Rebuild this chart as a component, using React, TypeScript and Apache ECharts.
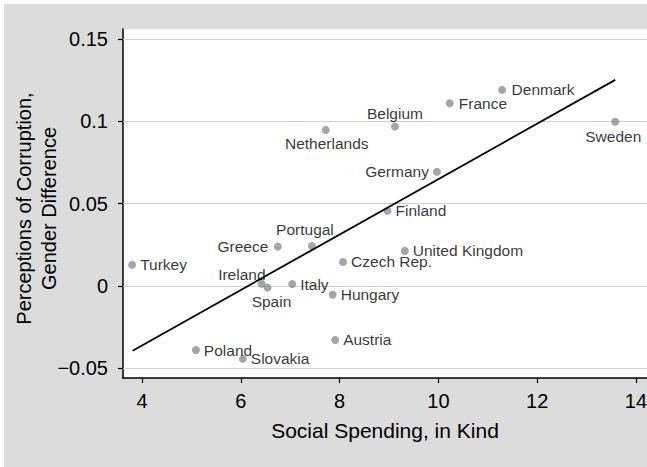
import React, { useEffect, useRef } from "react";
import * as echarts from "echarts";

// Country observations: in-kind social spending vs. gender gap in perceived corruption
const countries = [
  "Turkey", "Poland", "Slovakia", "Ireland", "Spain", "Greece", "Italy", "Portugal",
  "Netherlands", "Hungary", "Austria", "Czech Rep.", "Finland", "Belgium",
  "United Kingdom", "Germany", "France", "Denmark", "Sweden",
];
const spendingInKind = [
  3.8, 5.09, 6.04, 6.42, 6.54, 6.75, 7.04, 7.44,
  7.72, 7.86, 7.91, 8.07, 8.97, 9.12,
  9.32, 9.97, 10.23, 11.29, 13.58,
];
const corruptionGenderGap = [
  0.0128, -0.0389, -0.0443, 0.0014, -0.001, 0.0239, 0.0012, 0.0243,
  0.0948, -0.0053, -0.0328, 0.0146, 0.0456, 0.0968,
  0.0213, 0.0694, 0.111, 0.1191, 0.0998,
];

// Fitted line end points
const fitX = [3.81, 13.58];
const fitY = [-0.0393, 0.1252];

// Axis ticks
const xTicks = [4, 6, 8, 10, 12, 14];
const yTicks = [-0.05, 0, 0.05, 0.1, 0.15];

const FONT = "'Liberation Sans', Arial, Helvetica, sans-serif";

type Placement = { position: string; distance: number; offset: [number, number] };
const right: Placement = { position: "right", distance: 4, offset: [0, 0] };
const labelPlacement: Record<string, Placement> = {
  Greece: { position: "left", distance: 5.5, offset: [0, 0] },
  Germany: { position: "left", distance: 4, offset: [0, 0] },
  Ireland: { position: "left", distance: -8, offset: [0, -9] },
  Portugal: { position: "top", distance: 4, offset: [-7, 0] },
  Belgium: { position: "top", distance: 1, offset: [0, 0] },
  Spain: { position: "bottom", distance: 2, offset: [4, 0] },
  Netherlands: { position: "bottom", distance: 2, offset: [1, 0] },
  Sweden: { position: "bottom", distance: 3, offset: [-2, 0] },
  France: { position: "right", distance: 5, offset: [0, 0] },
  Denmark: { position: "right", distance: 5.5, offset: [0, 0] },
};

const fmtY = (v: number) => (v < 0 ? "\u2212" + String(Math.abs(v)) : String(v));

export default function App() {
  const ref = useRef<HTMLDivElement>(null);

  useEffect(() => {
    if (!ref.current) return;
    const chart = echarts.init(ref.current, undefined, { renderer: "svg" });

    const points = countries.map((name, i) => {
      const p = labelPlacement[name] || right;
      return {
        name,
        value: [spendingInKind[i], corruptionGenderGap[i]],
        label: {
          show: true,
          formatter: name,
          position: p.position,
          distance: p.distance,
          offset: p.offset,
        },
      };
    });

    chart.setOption({
      animation: false,
      backgroundColor: "#dcdcdc",
      textStyle: { fontFamily: FONT },
      grid: {
        left: 119,
        top: 25,
        right: 0,
        bottom: 89,
        outerBoundsMode: "none",
        containLabel: false,
        show: true,
        backgroundColor: "#ffffff",
        borderWidth: 0,
      },
      xAxis: {
        type: "value",
        min: 3.615,
        max: 14.223,
        name: "Social Spending, in Kind",
        nameLocation: "middle",
        nameGap: 42,
        nameMoveOverlap: false,
        nameTextStyle: { fontSize: 21, color: "#000", fontFamily: FONT },
        axisLine: { show: true, onZero: false, lineStyle: { color: "#000", width: 1.5 } },
        axisTick: {
          show: true,
          inside: false,
          length: 5,
          customValues: xTicks,
          lineStyle: { color: "#000", width: 1.2 },
        },
        axisLabel: {
          customValues: xTicks,
          fontSize: 20,
          color: "#000",
          margin: 13,
          fontFamily: FONT,
        },
        splitLine: { show: false },
      },
      yAxis: {
        type: "value",
        min: -0.0559,
        max: 0.1561,
        name: "Perceptions of Corruption,\nGender Difference",
        nameLocation: "middle",
        nameRotate: 90,
        nameGap: 62,
        nameMoveOverlap: false,
        nameTextStyle: {
          fontSize: 20,
          lineHeight: 25,
          color: "#000",
          fontFamily: FONT,
          padding: [0, 10, 0, 0],
        },
        axisLine: { show: true, onZero: false, lineStyle: { color: "#000", width: 1.5 } },
        axisTick: {
          show: true,
          inside: false,
          length: 5,
          customValues: yTicks,
          lineStyle: { color: "#000", width: 1.2 },
        },
        axisLabel: {
          customValues: yTicks,
          fontSize: 20,
          color: "#000",
          margin: 15,
          formatter: fmtY,
          fontFamily: FONT,
        },
        splitLine: { show: false },
      },
      series: [
        {
          type: "scatter",
          symbol: "circle",
          symbolSize: 8,
          itemStyle: { color: "#8e8e8e" },
          label: { fontSize: 15.5, color: "#000", fontFamily: FONT },
          data: points,
          z: 3,
          markLine: {
            silent: true,
            symbol: "none",
            z: 1,
            label: { show: false },
            lineStyle: { color: "#cfcfcf", width: 1, type: "solid" },
            data: yTicks.map((v) => ({ yAxis: v })),
          },
        },
        {
          type: "line",
          data: fitX.map((x, i) => [x, fitY[i]]),
          showSymbol: false,
          symbol: "none",
          lineStyle: { color: "#000", width: 1.8 },
          z: 4,
        },
      ],
    });

    return () => chart.dispose();
  }, []);

  return (
    <div
      style={{
        position: "absolute",
        left: 0,
        top: 0,
        width: 647,
        height: 467,
        background: "#ffffff",
      }}
    >
      <div
        ref={ref}
        style={{ position: "absolute", left: 4, top: 4, width: 643, height: 463 }}
      />
    </div>
  );
}
